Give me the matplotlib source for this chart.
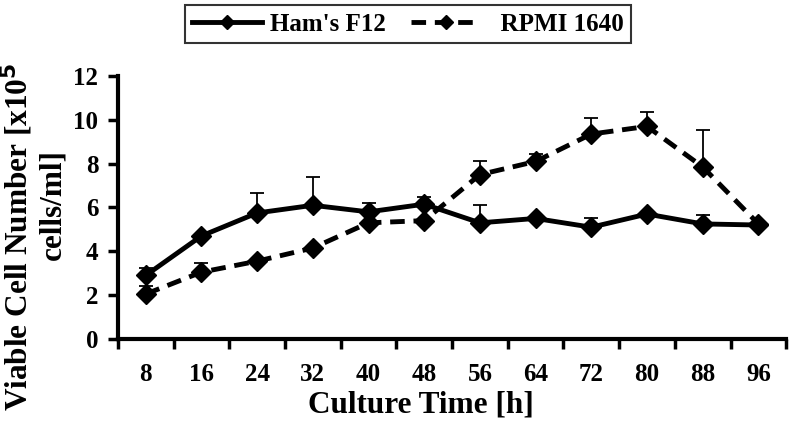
import numpy as np
import matplotlib.pyplot as plt
from matplotlib.lines import Line2D

# ------------------------
# Data
# ------------------------
hours = [8, 16, 24, 32, 40, 48, 56, 64, 72, 80, 88, 96]

hams_f12 = [2.9, 4.7, 5.75, 6.1, 5.8, 6.15, 5.3, 5.5, 5.1, 5.7, 5.25, 5.2]
hams_err = [0.35, 0.1, 0.9, 1.3, 0.4, 0.35, 0.8, 0.1, 0.4, 0.1, 0.4, 0.0]

rpmi_1640 = [2.05, 3.05, 3.55, 4.15, 5.3, 5.4, 7.5, 8.1, 9.35, 9.7, 7.85, 5.25]
rpmi_err = [0.35, 0.4, 0.05, 0.05, 0.1, 0.05, 0.6, 0.35, 0.75, 0.65, 1.7, 0.0]

plt.rcParams['font.family'] = ['Liberation Serif', 'DejaVu Serif']
plt.rcParams['font.weight'] = 'bold'

fig = plt.figure(figsize=(7.91, 4.24), dpi=100)
ax = fig.add_axes([0.149, 0.2005, 0.845, 0.6203])

x = np.arange(len(hours))
dash = (0, (3, 1.8))
zeros = np.zeros(len(hours))

# error bars (upper only)
ax.errorbar(x, hams_f12, yerr=[zeros, hams_err], fmt='none',
            ecolor='black', elinewidth=1.3, capsize=5, capthick=1.3)
ax.errorbar(x, rpmi_1640, yerr=[zeros, rpmi_err], fmt='none',
            ecolor='black', elinewidth=1.3, capsize=5, capthick=1.3)

ax.plot(x, hams_f12, color='black', lw=3.5, marker='D', markersize=10)
ax.plot(x, rpmi_1640, color='black', lw=3.5, ls=dash, marker='D', markersize=10)

ax.set_xlim(-0.5, len(hours) - 0.5)
ax.set_ylim(0, 12)
ax.set_yticks(range(0, 13, 2))
ax.set_xticks(x)
ax.set_xticklabels([str(h) for h in hours])
ax.set_xticks(np.arange(-0.5, len(hours), 1), minor=True)
ax.tick_params(axis='x', which='major', length=0, pad=17, labelsize=18)
ax.tick_params(axis='x', which='minor', length=7, width=2.5, direction='out')
ax.tick_params(axis='y', length=7, width=2.5, direction='out', labelsize=18, pad=7)

for s in ['top', 'right']:
    ax.spines[s].set_visible(False)
for s in ['left', 'bottom']:
    ax.spines[s].set_linewidth(3)

fig.text(421 / 791, 1 - 405 / 424, 'Culture Time [h]', ha='center', va='center',
         fontsize=22.5, fontweight='bold')

# two-line y label, drawn as separate texts
fig.text(17 / 791, 1 - 237 / 424, 'Viable Cell Number [x10$^\\mathbf{5}$',
         rotation=90, ha='center', va='center', fontsize=22.5, fontweight='bold')
fig.text(53 / 791, 1 - 205 / 424, 'cells/ml]',
         rotation=90, ha='center', va='center', fontsize=22.5, fontweight='bold')

handles = [Line2D([], [], color='black', lw=3.5, marker='D', markersize=7),
           Line2D([], [], color='black', lw=3.5, ls=dash, marker='D', markersize=7)]
leg = fig.legend(handles, ["Ham's F12", '  RPMI 1640'], loc='center',
                 bbox_to_anchor=(0.516, 0.943), ncol=2, frameon=True,
                 fancybox=False, edgecolor='black', handlelength=2.8,
                 handletextpad=0.3, columnspacing=1.0, borderpad=0.3,
                 prop={'weight': 'bold', 'size': 18})
leg.get_frame().set_linewidth(1.5)

fig.savefig('out.png', dpi=100)
